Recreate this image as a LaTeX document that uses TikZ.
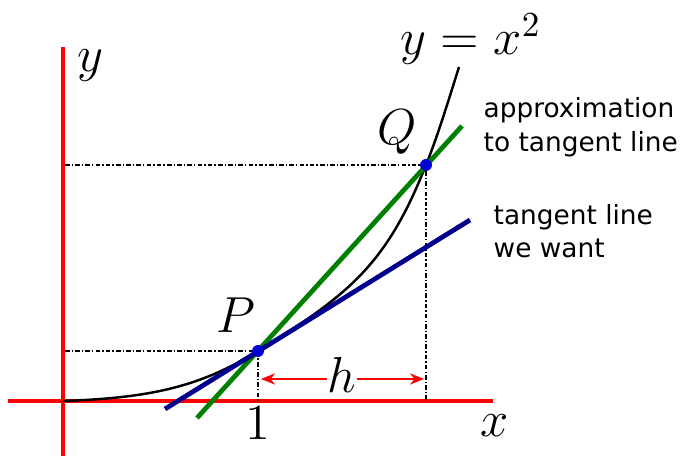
\documentclass[tikz,border=0pt]{standalone}
\usepackage{fontspec}
\newfontfamily\labelfont{DejaVu Sans}
\usetikzlibrary{arrows.meta}
\definecolor{tangblue}{RGB}{0,0,140}
\definecolor{secgreen}{RGB}{0,128,0}
\definecolor{dotblue}{RGB}{0,0,210}
\begin{document}
\begin{tikzpicture}[x=0.01cm,y=-0.01cm,
  axisln/.style={red, line width=0.9pt},
  guide/.style={black, line width=0.4pt, dash pattern=on 1.3pt off 0.6pt on 0.4pt off 0.6pt},
  curveln/.style={black, line width=0.7pt},
  tangentln/.style={tangblue, line width=1.35pt},
  secantln/.style={secgreen, line width=1.35pt},
  dotpt/.style={circle, fill=dotblue, inner sep=0pt, minimum size=3.4pt},
  mlabel/.style={font=\fontsize{14}{16}\selectfont, inner sep=0pt},
  slabel/.style={font=\labelfont\fontsize{7.5}{9.7}\selectfont, inner sep=0pt, anchor=base west},
  harrow/.style={red, line width=0.5pt, -{Stealth[length=4pt,width=3.2pt]}}]
\useasboundingbox (0,0) rectangle (684,456);
% coordinates
\coordinate (O) at (63,401);
\coordinate (yTop) at (63,47);
\coordinate (yBot) at (63,456);
\coordinate (xL) at (8,401);
\coordinate (xR) at (493,401);
\coordinate (P) at (258,351);
\coordinate (Q) at (426,165);
\coordinate (Py) at (65,351);
\coordinate (Qy) at (65,165);
\coordinate (Px) at (258,401);
\coordinate (Qx) at (426,401);
\coordinate (curveTop) at (459,67);
\coordinate (tanA) at (165,409);
\coordinate (tanB) at (470,220);
\coordinate (secA) at (197,418);
\coordinate (secB) at (462,126);
\coordinate (hL) at (261,379);
\coordinate (hR) at (424,379);
% axes
\draw[axisln] (xL) -- (xR);
\draw[axisln] (yBot) -- (yTop);
% guides
\draw[guide] (Qy) -- (Q) -- (Qx);
\draw[guide] (Py) -- (P) -- (Px);
% curve
\draw[curveln] (O) .. controls (150,398) and (200,387) .. (P)
  .. controls (348,295) and (386,266) .. (Q)
  .. controls (437,138) and (449,99) .. (curveTop);
% lines
\draw[secantln] (secA) -- (secB);
\draw[tangentln] (tanA) -- (tanB);
% dots
\node[dotpt] (Pdot) at (P) {};
\node[dotpt] (Qdot) at (Q) {};
% h arrow
\node[mlabel, anchor=base] (h) at (342,393) {$h$};
\draw[harrow] (h.west |- hL) -- (hL);
\draw[harrow] (h.east |- hR) -- (hR);
% labels
\node[mlabel, anchor=base] (ylab) at (90,72) {$y$};
\node[mlabel, anchor=base] (xlab) at (495,437) {$x$};
\node[mlabel, anchor=base] (one) at (258,440) {$1$};
\node[mlabel, anchor=base] (Plab) at (236,333) {$P$};
\node[mlabel, anchor=base] (Qlab) at (397,145) {$Q$};
\node[mlabel, anchor=base] (flab) at (471,55) {$y=x^2$};
\node[slabel] (approx1) at (483,118) {approximation};
\node[slabel] (approx2) at (483,152) {to tangent line};
\node[slabel] (want1) at (493,225) {tangent line};
\node[slabel] (want2) at (493,258) {we want};
\end{tikzpicture}
\end{document}
